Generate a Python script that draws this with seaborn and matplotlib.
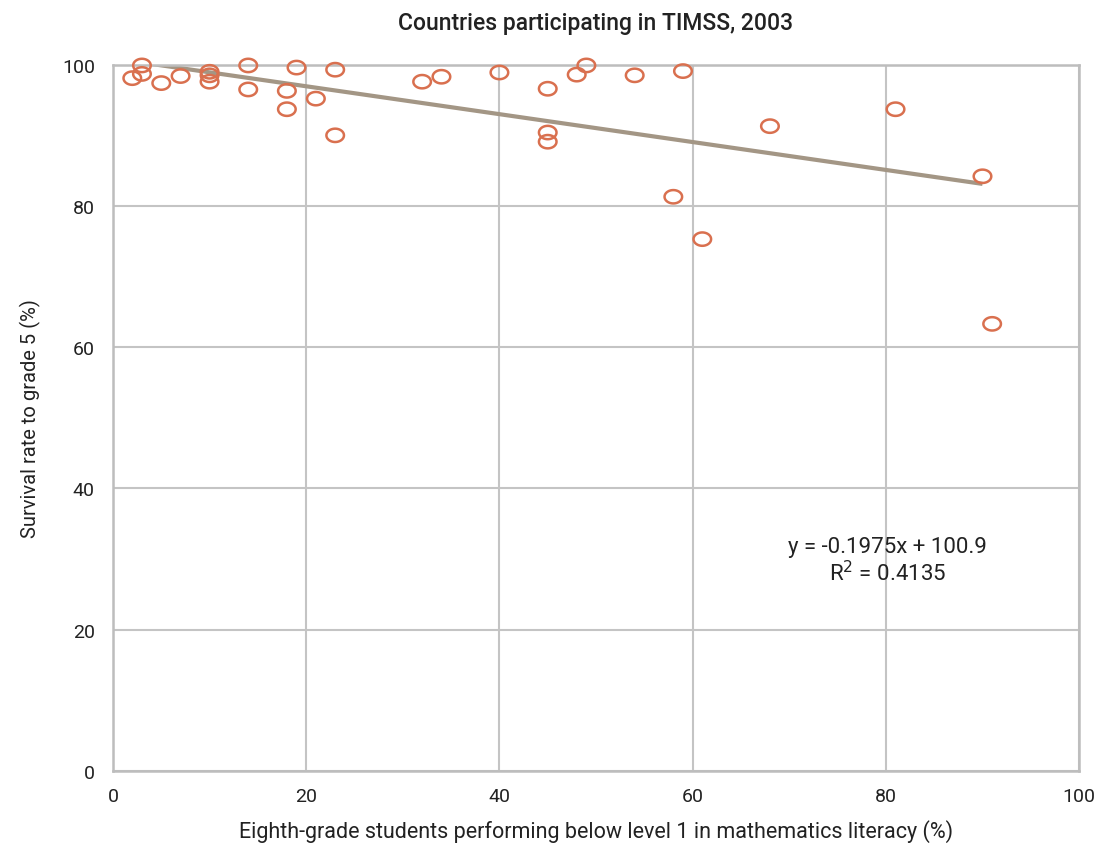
import numpy as np
import pandas as pd
import seaborn as sns
import matplotlib.pyplot as plt
from matplotlib.path import Path

# Data
below_level1 = [2, 3, 3, 5, 7, 10, 10, 10, 14, 14, 18, 18, 19, 21, 23, 23,
                32, 34, 40, 45, 45, 45, 48, 49, 54, 59, 58, 61, 68, 81, 90, 91]
survival_rate = [98.1, 99.9, 98.7, 97.4, 98.4, 99.0, 98.5, 97.6, 99.9, 96.5,
                 96.3, 93.7, 99.6, 95.2, 99.3, 90.0, 97.6, 98.3, 98.9, 96.6,
                 90.4, 89.1, 98.6, 99.9, 98.5, 99.1, 81.3, 75.3, 91.3, 93.7,
                 84.2, 63.3]
slope = -0.1975
intercept = 100.9
r_squared = 0.4135

df = pd.DataFrame({"x": below_level1, "y": survival_rate})

sns.set_theme(style="white")
plt.rcParams['font.family'] = ['Roboto', 'DejaVu Sans']

fig = plt.figure(figsize=(11, 8.45), dpi=100)
ax = fig.add_axes([0.1027, 0.0867, 0.8783, 0.8355])

# trend line from the printed equation
tx = np.array([3, 90])
ax.plot(tx, slope * tx + intercept, color='#A39685', linewidth=3, zorder=2,
        solid_capstyle='butt')

# slightly flattened open circle, like the source
t = np.linspace(0, 2 * np.pi, 60)
ellipse = Path(np.column_stack([np.cos(t), 0.76 * np.sin(t)]), closed=True)
sns.scatterplot(data=df, x="x", y="y", ax=ax, marker=ellipse, s=160,
                facecolor='none', edgecolor='#D9704F', linewidth=1.8, zorder=3,
                clip_on=False)

ax.set_xlim(0, 100)
ax.set_ylim(0, 100)
ax.set_xticks(range(0, 101, 20))
ax.set_yticks(range(0, 101, 20))
ax.grid(True, color='#C4C4C4', linewidth=1.5)
ax.set_axisbelow(True)
for sp in ax.spines.values():
    sp.set_color('#BDBDBD')
    sp.set_linewidth(1.8)
ax.tick_params(length=0, labelsize=14, colors='#222222')
ax.tick_params(axis='x', pad=12)
ax.tick_params(axis='y', pad=13)

ax.set_xlabel("Eighth-grade students performing below level 1 in mathematics literacy (%)",
              fontsize=15.5, color='#222222', labelpad=10)
ax.set_ylabel("Survival rate to grade 5 (%)", fontsize=14.5, color='#222222', labelpad=15)
ax.set_title("Countries participating in TIMSS, 2003", fontsize=16.5, fontweight='medium',
             color='#222222', pad=26)

ax.text(80.2, 29.8, f"y = {slope}x + {intercept}\nR$^2$ = {r_squared}",
        ha='center', va='center', fontsize=16, color='#222222', linespacing=1.15)

fig.savefig("out.png", dpi=100)
